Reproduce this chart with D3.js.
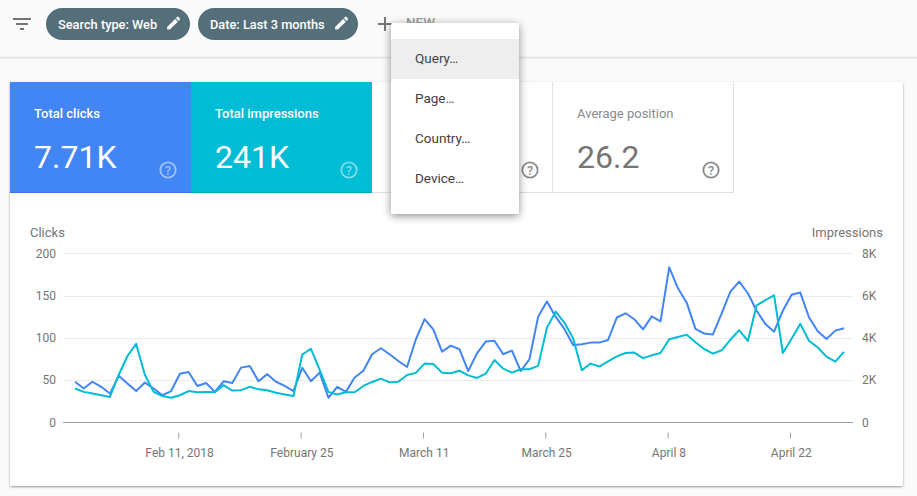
<!DOCTYPE html>
<html>
<head>
<meta charset="utf-8">
<style>
  html, body { margin: 0; padding: 0; background: #fafafa; overflow: hidden; }
  svg { display: block; font-family: Roboto, sans-serif; }
  .domain { display: none; }
</style>
</head>
<body>
<svg id="page" width="917" height="496"></svg>
<script src="https://cdn.jsdelivr.net/npm/d3@7"></script>
<script>
// Daily values, Jan 30 to Apr 28 2018
var startDate = "2018-01-30";
var clicks = [48,40,48,42,34,55,46,37,47,40,32,37,57.5,59.5,43,46.5,36,48.5,46.5,64.7,66.7,48.5,57,48,43,37,
  64.5,48.5,58.8,29,42,36,53,61,80.5,87.6,80.5,72.6,65.5,98,122,110,83.6,90.7,86.4,60.7,81.6,95.5,96.6,80.5,
  84.8,60.7,74.5,125,143,125,110.5,91.5,92.3,94.3,94.3,97.4,124,129,122,110,125.4,119.5,183.4,158.6,141.6,
  110.5,105,104,129,154.6,166.5,152.7,132,116.4,107.3,132,151,153.5,124,107.7,98.6,108.5,111.2];
var impressions = [1600,1440,1360,1280,1200,2240,3140,3710,2240,1440,1240,1160,1280,1480,1420,1440,1420,1760,
  1500,1520,1680,1560,1520,1400,1320,1240,3200,3480,2480,1440,1320,1420,1420,1720,1910,2070,1890,1920,2240,
  2340,2780,2760,2350,2320,2440,2220,2100,2300,2950,2540,2350,2510,2510,2670,4480,5240,4720,3980,2460,2780,
  2640,2880,3120,3280,3300,3040,3170,3280,3930,4040,4150,3790,3470,3250,3410,3910,4360,3850,5540,5780,6010,
  3280,3960,4660,3860,3540,3110,2870,3330];

var clickTicks = [0,50,100,150,200];
var impressionTicks = [0,2000,4000,6000,8000];
var impressionLabels = ["0","2K","4K","6K","8K"];
var dateTicks = ["2018-02-11","2018-02-25","2018-03-11","2018-03-25","2018-04-08","2018-04-22"];
var dateLabels = ["Feb 11, 2018","February 25","March 11","March 25","April 8","April 22"];

var tileLabels = ["Total clicks","Total impressions","Average position"];
var tileValues = ["7.71K","241K","26.2"];
var chips = ["Search type: Web","Date: Last 3 months"];
var menuItems = ["Query…","Page…","Country…","Device…"];

var BLUE = "#4285f4", TEAL = "#00bcd4", GREY = "#757575", CHIP = "#546e7a";
var PENCIL = "M3 17.25V21h3.75L17.81 9.94l-3.75-3.75L3 17.25zM20.71 7.04a1 1 0 0 0 0-1.41l-2.34-2.34a1 1 0 0 0-1.41 0l-1.83 1.83 3.75 3.75 1.83-1.83z";

var svg = d3.select("#page");
var defs = svg.append("defs");

function shadow(id, dy, blur, opacity) {
  defs.append("filter").attr("id", id)
    .attr("x", "-10%").attr("y", "-10%").attr("width", "120%").attr("height", "125%")
    .append("feDropShadow")
    .attr("dx", 0).attr("dy", dy).attr("stdDeviation", blur)
    .attr("flood-color", "#000").attr("flood-opacity", opacity);
}
shadow("cardShadow", 1, 1.2, 0.4);
shadow("menuShadow", 2, 4, 0.45);

function label(g, x, y, str, size, fill, anchor) {
  return g.append("text").attr("x", x).attr("y", y).text(str)
    .attr("font-size", size).attr("fill", fill).attr("text-anchor", anchor || "start");
}

// top bar
svg.append("line").attr("x1", 0).attr("x2", 917).attr("y1", 57.5).attr("y2", 57.5)
  .attr("stroke", "#e0e0e0").attr("stroke-width", 1.5);

var filterIcon = svg.append("g").attr("stroke", GREY).attr("stroke-width", 2);
[[13,31,19],[16,28,24],[20,24,29]].forEach(function (b) {
  filterIcon.append("line").attr("x1", b[0]).attr("x2", b[1]).attr("y1", b[2]).attr("y2", b[2]);
});

var chipBoxes = [[46,144],[198,160]];
chips.forEach(function (c, i) {
  var g = svg.append("g").attr("transform", "translate(" + chipBoxes[i][0] + ",8)");
  g.append("rect").attr("width", chipBoxes[i][1]).attr("height", 32).attr("rx", 16).attr("fill", CHIP);
  label(g, 12, 20.5, c, 12.8, "#fff").attr("font-weight", 500);
  g.append("path").attr("d", PENCIL).attr("fill", "#fff")
    .attr("transform", "translate(" + (chipBoxes[i][1] - 25) + ",6.5) scale(0.72)");
});

svg.append("path").attr("d", "M385 17V31M378 24H392").attr("stroke", GREY).attr("stroke-width", 2).attr("fill", "none");
label(svg, 406, 27, "NEW", 13.5, "#9e9e9e").attr("font-weight", 500);

// card
svg.append("rect").attr("x", 10).attr("y", 82).attr("width", 893).attr("height", 404)
  .attr("fill", "#fff").attr("rx", 2).attr("filter", "url(#cardShadow)");

// metric tiles
svg.append("rect").attr("x", 10).attr("y", 82).attr("width", 181).attr("height", 111).attr("fill", BLUE);
svg.append("rect").attr("x", 191).attr("y", 82).attr("width", 181).attr("height", 111).attr("fill", TEAL);
svg.append("path").attr("d", "M372.5 192.5H733.5V82M552.5 82V192.5").attr("fill", "none").attr("stroke", "#e0e0e0");
svg.append("line").attr("x1", 10).attr("x2", 191).attr("y1", 192.5).attr("y2", 192.5).attr("stroke", "#3a76dc");
svg.append("line").attr("x1", 191).attr("x2", 372).attr("y1", 192.5).attr("y2", 192.5).attr("stroke", "#00a8be");

var tileX = [34, 215, 577];
var tileInk = ["#fff", "#fff", GREY];
tileLabels.forEach(function (t, i) {
  label(svg, tileX[i], 118, t, 13, i < 2 ? "#fff" : "#8a8a8a").attr("font-weight", i < 2 ? 500 : 400);
  label(svg, tileX[i], 168, tileValues[i], 32, tileInk[i]);
});

function helpIcon(cx, stroke, opacity) {
  var g = svg.append("g").attr("opacity", opacity);
  g.append("circle").attr("cx", cx).attr("cy", 170).attr("r", 7.7)
    .attr("fill", "none").attr("stroke", stroke).attr("stroke-width", 1.8);
  label(g, cx, 174.5, "?", 12.5, stroke, "middle").attr("font-weight", 500);
}
helpIcon(168, "#fff", 0.5);
helpIcon(349, "#fff", 0.5);
helpIcon(530, "#8a8a8a", 1);
helpIcon(711, "#8a8a8a", 1);

// chart
var parseDate = d3.utcParse("%Y-%m-%d");
var dates = clicks.map(function (d, i) { return d3.utcDay.offset(parseDate(startDate), i); });

var x = d3.scaleUtc().domain([dates[0], dates[dates.length - 1]]).range([75, 844]);
var yClicks = d3.scaleLinear().domain([0, 200]).range([422.3, 253.3]);
var yImpressions = d3.scaleLinear().domain([0, 8000]).range([422.3, 253.3]);

label(svg, 30, 237, "Clicks", 13, GREY);
label(svg, 883, 237, "Impressions", 13, GREY, "end");

svg.append("g").selectAll("line").data(clickTicks).join("line")
  .attr("x1", 63).attr("x2", 853)
  .attr("y1", function (d) { return Math.round(yClicks(d)) + 0.5; })
  .attr("y2", function (d) { return Math.round(yClicks(d)) + 0.5; })
  .attr("stroke", function (d) { return d === 0 ? "#9e9e9e" : "#ebebeb"; });

var leftAxis = svg.append("g").attr("transform", "translate(56,0)")
  .call(d3.axisLeft(yClicks).tickValues(clickTicks).tickSize(0).tickPadding(0));
var rightAxis = svg.append("g").attr("transform", "translate(862,0)")
  .call(d3.axisRight(yImpressions).tickValues(impressionTicks).tickSize(0).tickPadding(0)
    .tickFormat(function (d, i) { return impressionLabels[i]; }));
var bottomAxis = svg.append("g").attr("transform", "translate(-1.6,432.5)")
  .call(d3.axisBottom(x).tickValues(dateTicks.map(parseDate)).tickSize(6).tickPadding(10)
    .tickFormat(function (d, i) { return dateLabels[i]; }));
bottomAxis.selectAll("text").attr("dx", 0.8);

[leftAxis, rightAxis, bottomAxis].forEach(function (a) {
  a.attr("font-family", "Roboto, sans-serif").attr("font-size", 12);
  a.selectAll("text").attr("fill", GREY);
  a.selectAll("line").attr("stroke", "#9e9e9e");
});

function drawLine(values, scale, color) {
  svg.append("path").datum(values)
    .attr("fill", "none").attr("stroke", color).attr("stroke-width", 2)
    .attr("stroke-linejoin", "round")
    .attr("d", d3.line()
      .x(function (d, i) { return x(dates[i]); })
      .y(function (d) { return scale(d); }));
}
drawLine(clicks, yClicks, BLUE);
drawLine(impressions, yImpressions, TEAL);

// open dropdown sits over everything
var menu = svg.append("g").attr("transform", "translate(391,23)");
menu.append("rect").attr("width", 128).attr("height", 191).attr("rx", 2).attr("fill", "#fff")
  .attr("filter", "url(#menuShadow)");
menu.append("rect").attr("y", 16).attr("width", 128).attr("height", 40).attr("fill", "#eeeeee");
menuItems.forEach(function (m, i) {
  label(menu, 24, 40 + i * 40, m, 13.5, "#424242");
});
</script>
</body>
</html>
